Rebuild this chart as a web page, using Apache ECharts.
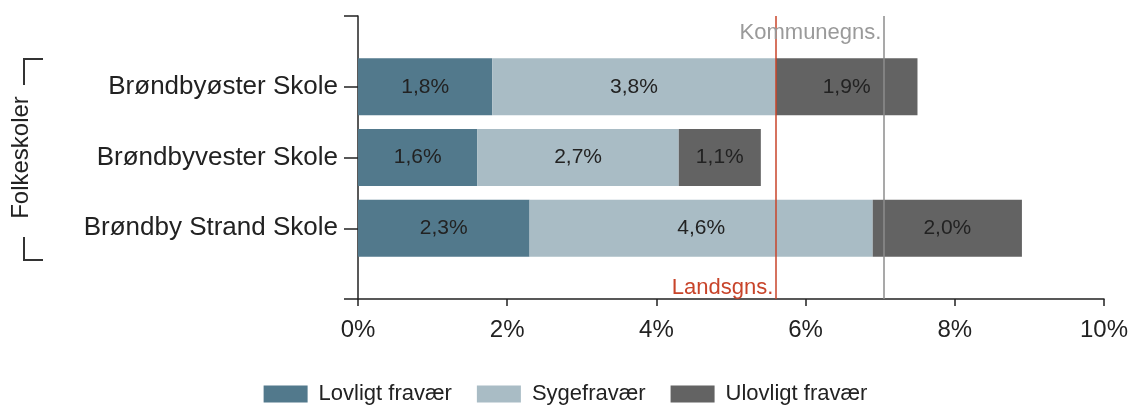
<!DOCTYPE html>
<html>
<head>
<meta charset="utf-8">
<script src="https://cdn.jsdelivr.net/npm/echarts@6/dist/echarts.min.js"></script>
<style>
  html, body { margin: 0; padding: 0; background: #fff; }
  #chart { width: 1131px; height: 408px; }
</style>
</head>
<body>
<div id="chart"></div>
<script>
  // data
  var schools = ['Brøndbyøster Skole', 'Brøndbyvester Skole', 'Brøndby Strand Skole']
  var seriesNames = ['Lovligt fravær', 'Sygefravær', 'Ulovligt fravær']
  var lovligt = [1.8, 1.6, 2.3]
  var syge = [3.8, 2.7, 4.6]
  var ulovligt = [1.9, 1.1, 2.0]
  var landsgns = 5.6
  var kommunegns = 7.05
  var xTicks = [0, 2, 4, 6, 8, 10]

  var font = "'Liberation Sans', Arial, sans-serif"
  var colors = ['#52798c', '#a9bcc5', '#636363']

  // tomme kategorier i begge ender, så aksen får luft over og under
  var yCategories = [''].concat(schools, [''])
  function pad (arr) { return ['-'].concat(arr, ['-']) }

  function barSeries (name, data, color) {
    return {
      name: name,
      type: 'bar',
      stack: 'total',
      data: pad(data),
      barWidth: 57,
      itemStyle: { color: color },
      label: {
        show: true,
        position: 'inside',
        color: '#222',
        fontFamily: font,
        fontSize: 21,
        formatter: function (p) {
          return p.value.toFixed(1).replace('.', ',') + '%'
        }
      }
    }
  }

  var chart = echarts.init(document.getElementById('chart'))
  chart.setOption({
    animation: false,
    textStyle: { fontFamily: font },
    grid: { left: 358, right: 27, top: 16, bottom: 109, containLabel: false },
    legend: {
      data: seriesNames,
      left: 'center',
      top: 378,
      itemWidth: 44,
      itemHeight: 17,
      itemGap: 25,
      icon: 'rect',
      textStyle: { color: '#222', fontSize: 22, fontFamily: font, padding: [0, 0, 0, 6] }
    },
    xAxis: {
      type: 'value',
      min: xTicks[0],
      max: xTicks[xTicks.length - 1],
      interval: 2,
      axisLine: { show: true, lineStyle: { color: '#222', width: 1.5 } },
      axisTick: { show: true, length: 7, lineStyle: { color: '#222', width: 1.5 } },
      splitLine: { show: false },
      axisLabel: { color: '#222', fontSize: 24, margin: 19, formatter: '{value}%' }
    },
    yAxis: {
      type: 'category',
      data: yCategories,
      inverse: true,
      boundaryGap: false,
      name: 'Folkeskoler',
      nameLocation: 'middle',
      nameGap: 325,
      nameRotate: 90,
      nameTextStyle: { color: '#222', fontSize: 24, fontFamily: font },
      axisLine: { show: true, lineStyle: { color: '#222', width: 1.5 } },
      axisTick: { show: true, length: 14, interval: 0, lineStyle: { color: '#222', width: 1.5 } },
      axisLabel: { color: '#222', fontSize: 26, margin: 20, interval: 0 }
    },
    graphic: [
      { type: 'polyline', shape: { points: [[43, 59], [24, 59], [24, 85]] }, style: { stroke: '#333', lineWidth: 2, fill: null } },
      { type: 'polyline', shape: { points: [[24, 237], [24, 260], [43, 260]] }, style: { stroke: '#333', lineWidth: 2, fill: null } }
    ],
    series: [
      barSeries(seriesNames[0], lovligt, colors[0]),
      barSeries(seriesNames[1], syge, colors[1]),
      barSeries(seriesNames[2], ulovligt, colors[2]),
      {
        // gennemsnitslinjer
        type: 'line',
        data: [],
        silent: true,
        markLine: {
          silent: true,
          symbol: 'none',
          label: { show: false },
          data: [
            { xAxis: landsgns, lineStyle: { color: '#c8442a', width: 1.5, type: 'solid' } },
            { xAxis: kommunegns, lineStyle: { color: '#8c8c8c', width: 1.5, type: 'solid' } }
          ]
        },
        markPoint: {
          silent: true,
          symbol: 'rect',
          symbolSize: 1,
          itemStyle: { color: 'rgba(0,0,0,0)' },
          data: [
            {
              coord: [landsgns, 4],
              label: { show: true, position: 'left', distance: 2, offset: [0, -11], formatter: 'Landsgns.', color: '#c8442a', fontSize: 22, fontFamily: font }
            },
            {
              coord: [kommunegns, 0],
              label: { show: true, position: 'left', distance: 2, offset: [0, 17], formatter: 'Kommunegns.', color: '#9a9a9a', fontSize: 22, fontFamily: font }
            }
          ]
        }
      }
    ]
  })
</script>
</body>
</html>
